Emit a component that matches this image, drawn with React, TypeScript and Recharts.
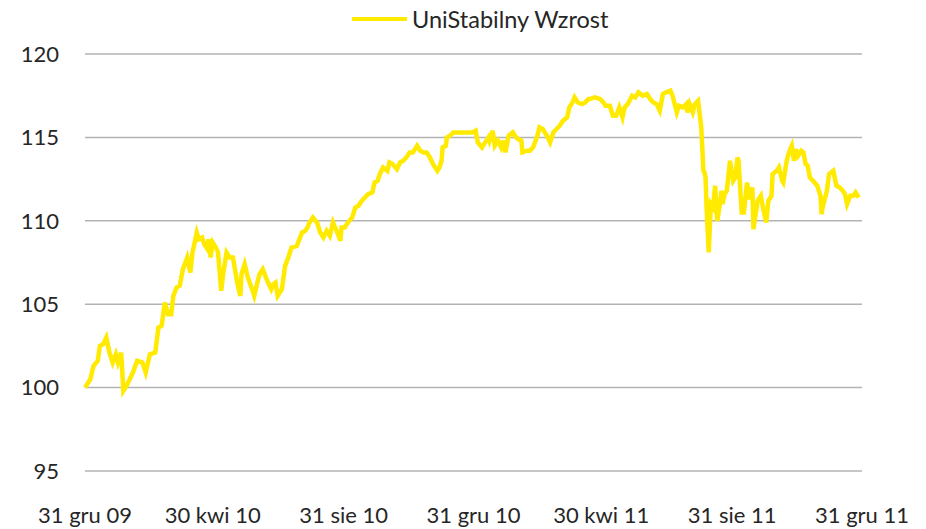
import React from "react";
import { LineChart, Line, XAxis, YAxis, CartesianGrid } from "recharts";

// Days since 31 Dec 2009
const days = [
  0, 5, 8, 12, 14, 17, 20, 23, 26, 29, 31, 34, 36, 39, 42, 45, 49, 54, 57, 61,
  66, 69, 72, 75, 78, 81, 83, 86, 89, 92, 96, 99, 101, 105, 107, 110, 112, 115, 116, 118,
  120, 123, 125, 128, 130, 133, 136, 139, 143, 146, 147, 150, 153, 157, 159, 162, 164, 167, 170, 172,
  175, 177, 179, 181, 185, 188, 191, 194, 199, 204, 207, 209, 211, 214, 218, 221, 224, 227, 230, 233,
  237, 240, 241, 244, 247, 251, 254, 257, 260, 263, 266, 270, 272, 275, 277, 280, 284, 286, 289, 293,
  296, 299, 302, 305, 308, 312, 315, 318, 321, 324, 327, 331, 333, 335, 336, 339, 340, 343, 346, 349,
  352, 355, 359, 362, 364, 367, 369, 373, 376, 379, 380, 383, 385, 388, 391, 393, 395, 398, 402, 405,
  407, 410, 411, 415, 418, 421, 425, 427, 430, 434, 437, 440, 443, 446, 449, 453, 455, 458, 460, 463,
  467, 470, 473, 474, 479, 484, 487, 489, 493, 496, 499, 502, 505, 507, 510, 514, 517, 520, 524, 528,
  531, 534, 537, 540, 543, 546, 550, 552, 556, 558, 562, 565, 566, 568, 571, 573, 576, 579, 581, 582,
  583, 584, 586, 588, 590, 592, 594, 597, 598, 599, 601, 603, 606, 609, 611, 613, 614, 617, 619, 622,
  624, 627, 628, 630, 632, 635, 637, 640, 642, 645, 646, 650, 652, 655, 656, 659, 660, 662, 664, 666,
  668, 670, 673, 675, 677, 679, 681, 684, 688, 691, 692, 693, 697, 699, 703, 706, 709, 712, 714, 716,
  719, 722, 724, 727,
];

const wzrost = [
  100.0, 100.5, 101.3, 101.6, 102.5, 102.6, 103.0, 102.1, 101.5, 102.0, 101.5, 102.1, 99.8, 100.1, 100.5, 100.9, 101.6, 101.5, 100.9, 102.0,
  102.1, 103.6, 103.7, 105.1, 104.4, 104.4, 105.5, 106.0, 106.1, 107.1, 107.8, 106.9, 108.1, 109.3, 108.9, 109.0, 108.6, 108.3, 108.9, 107.8,
  108.7, 108.4, 108.1, 105.8, 106.9, 108.1, 107.8, 107.8, 106.3, 105.5, 106.8, 107.4, 106.6, 105.9, 105.5, 106.3, 106.8, 107.1, 106.6, 106.3,
  105.9, 106.2, 106.3, 105.5, 105.9, 107.3, 107.8, 108.4, 108.5, 109.3, 109.4, 109.6, 109.9, 110.2, 109.9, 109.3, 109.0, 109.4, 109.1, 109.9,
  109.3, 108.8, 109.6, 109.6, 109.9, 110.2, 110.8, 110.9, 111.2, 111.4, 111.6, 111.7, 112.3, 112.4, 112.8, 113.2, 113.0, 113.5, 113.4, 113.1,
  113.5, 113.6, 113.8, 114.1, 114.1, 114.5, 114.2, 114.1, 114.1, 113.8, 113.4, 113.0, 113.2, 113.6, 114.4, 114.5, 115.0, 115.1, 115.3, 115.3,
  115.3, 115.3, 115.3, 115.3, 115.3, 115.4, 114.7, 114.4, 114.7, 115.0, 114.8, 115.4, 114.5, 114.8, 114.4, 114.8, 114.1, 115.1, 115.3, 115.0,
  114.9, 114.8, 114.1, 114.2, 114.2, 114.4, 115.1, 115.6, 115.5, 115.1, 114.7, 115.3, 115.5, 115.7, 116.0, 116.2, 116.8, 117.1, 117.4, 117.1,
  117.0, 117.1, 117.3, 117.3, 117.4, 117.3, 117.1, 116.9, 116.9, 116.3, 116.3, 116.8, 116.2, 116.8, 117.0, 117.5, 117.4, 117.7, 117.5, 117.6,
  117.3, 117.1, 117.0, 116.6, 117.6, 117.7, 117.8, 117.5, 116.5, 116.9, 116.8, 117.0, 116.5, 117.0, 116.5, 117.0, 117.2, 115.6, 113.0, 112.9,
  112.6, 110.8, 108.1, 111.0, 110.8, 112.1, 110.0, 111.2, 111.8, 111.0, 111.6, 111.8, 113.6, 112.4, 112.6, 113.8, 113.6, 110.5, 110.5, 112.3,
  111.3, 112.0, 109.5, 110.4, 111.2, 111.5, 110.8, 109.9, 111.2, 111.5, 112.8, 113.0, 113.2, 112.4, 112.3, 113.5, 113.8, 114.2, 114.5, 113.6,
  114.3, 113.9, 114.2, 114.1, 113.4, 113.3, 112.6, 112.4, 112.1, 111.5, 110.4, 110.8, 111.8, 112.8, 113.0, 112.1, 112.0, 111.8, 111.6, 111.0,
  111.5, 111.5, 111.7, 111.4,
];

const tickDays = [0, 120, 243, 365, 485, 608, 730];
const tickLabels = ["31 gru 09", "30 kwi 10", "31 sie 10", "31 gru 10", "30 kwi 11", "31 sie 11", "31 gru 11"];
const yTicks = [95, 100, 105, 110, 115, 120];
const seriesName = "UniStabilny Wzrost";

const data = days.map((d, i) => ({ d, v: wzrost[i] }));

const FONT = "Lato, 'Noto Sans', sans-serif";
const TEXT = "#262626";
const YELLOW = "#FFEA00";

export default function App() {
  return (
    <div style={{ position: "absolute", left: 0, top: 0, width: 926, height: 529, background: "#fff", fontFamily: FONT }}>
      <div style={{ position: "absolute", left: 352, top: 4, height: 30, display: "flex", alignItems: "center" }}>
        <span style={{ display: "inline-block", width: 55, height: 4, background: YELLOW, marginRight: 5 }} />
        <span style={{ fontSize: 23.5, color: TEXT, fontFamily: FONT }}>{seriesName}</span>
      </div>
      <LineChart width={926} height={529} data={data} margin={{ top: 54, right: 64, bottom: 0, left: 0 }}>
        <CartesianGrid horizontal={true} vertical={false} stroke="#b3b3b3" strokeWidth={1.5} />
        <XAxis
          dataKey="d"
          type="number"
          domain={[0, 730]}
          ticks={tickDays}
          tickFormatter={(d: number) => tickLabels[tickDays.indexOf(d)] ?? ""}
          axisLine={false}
          tickLine={false}
          tickSize={0}
          tickMargin={36}
          height={58}
          interval={0}
          tick={{ fill: TEXT, fontSize: 22, fontFamily: FONT }}
        />
        <YAxis
          type="number"
          domain={[95, 120]}
          ticks={yTicks}
          axisLine={false}
          tickLine={false}
          tickSize={0}
          tickMargin={26}
          width={85}
          interval={0}
          tick={{ fill: TEXT, fontSize: 22, fontFamily: FONT }}
        />
        <Line
          type="linear"
          dataKey="v"
          name={seriesName}
          stroke={YELLOW}
          strokeWidth={4.5}
          dot={false}
          isAnimationActive={false}
        />
      </LineChart>
    </div>
  );
}
